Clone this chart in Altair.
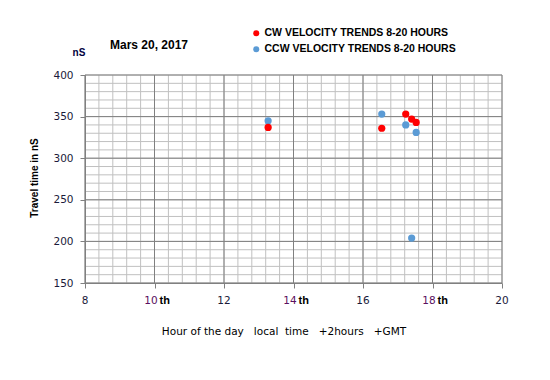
import altair as alt
import pandas as pd

# ---- data ----
cw_hour = [13.27, 16.54, 17.23, 17.40, 17.53]
cw_ns = [337, 336, 353, 347, 343]
ccw_hour = [13.27, 16.54, 17.23, 17.53, 17.40]
ccw_ns = [345, 353, 340, 331, 204]
series = ["CW VELOCITY TRENDS 8-20 HOURS", "CCW VELOCITY TRENDS 8-20 HOURS"]
colors = ["#ff0000", "#5b9bd5"]

x_ticks = [8, 10, 12, 14, 16, 18, 20]
x_tick_labels = ["8", "10", "12", "14", "16", "18", "20"]
th_ticks = [10, 14, 18]
y_ticks = [150, 200, 250, 300, 350, 400]
x_minor = [round(8 + 0.4 * i, 2) for i in range(31)]
y_minor = list(range(150, 401, 10))

W, H = 417, 208
OX, OY = 85, 75  # plot origin in page pixels

xs = alt.Scale(domain=[8, 20], nice=False, zero=False)
ys = alt.Scale(domain=[150, 400], nice=False, zero=False)

x_axis = alt.Axis(values=x_ticks, labels=False, tickSize=5, tickColor="#808080",
                  domainColor="#808080", grid=False, title=None, zindex=1)
y_axis = alt.Axis(values=y_ticks, tickSize=5, tickColor="#808080", domainColor="#808080",
                  grid=False, title=None, labelFont="DejaVu Sans", labelFontSize=10.5,
                  labelColor="#1a1a3a", labelPadding=7, zindex=1)

def X(f):
    return alt.X(f, scale=xs, axis=x_axis)

def Y(f):
    return alt.Y(f, scale=ys, axis=y_axis)

pts = pd.DataFrame({
    "hour": cw_hour + ccw_hour,
    "ns": cw_ns + ccw_ns,
    "s": [series[0]] * len(cw_hour) + [series[1]] * len(ccw_hour),
})

grid_minor_x = alt.Chart(pd.DataFrame({"v": x_minor})).mark_rule(color="#c0c0c0", strokeWidth=1).encode(x=X("v:Q"))
grid_minor_y = alt.Chart(pd.DataFrame({"v": y_minor})).mark_rule(color="#c0c0c0", strokeWidth=1).encode(y=Y("v:Q"))
grid_major_x = alt.Chart(pd.DataFrame({"v": x_ticks})).mark_rule(color="#808080", strokeWidth=1).encode(x=X("v:Q"))
grid_major_y = alt.Chart(pd.DataFrame({"v": y_ticks})).mark_rule(color="#808080", strokeWidth=1).encode(y=Y("v:Q"))

color_enc = alt.Color(
    "s:N",
    scale=alt.Scale(domain=series, range=colors),
    legend=alt.Legend(
        orient="none", legendX=166, legendY=-47, title=None,
        symbolType="circle", symbolSize=36, symbolStrokeWidth=0, symbolOpacity=1,
        labelFont="Liberation Sans", labelFontWeight="bold", labelFontSize=10.5,
        labelColor="#000000", labelOffset=3, rowPadding=5, padding=0, labelLimit=0,
    ),
)

blue = alt.Chart(pts).transform_filter(alt.datum.s == series[1]).mark_circle(size=52, opacity=1).encode(
    x=X("hour:Q"), y=Y("ns:Q"), color=color_enc)
red = alt.Chart(pts).transform_filter(alt.datum.s == series[0]).mark_circle(size=52, opacity=1).encode(
    x=X("hour:Q"), y=Y("ns:Q"), color=color_enc)

lab_df = pd.DataFrame({"h": x_ticks, "lab": x_tick_labels})
lab_plain = alt.Chart(lab_df).transform_filter("datum.h % 4 == 0").mark_text(
    font="DejaVu Sans", fontSize=10.5, color="#1a1a3a", baseline="middle", align="center"
).encode(x=X("h:Q"), y=alt.value(H + 17.5), text="lab:N")
lab_num_th = alt.Chart(lab_df).transform_filter("datum.h % 4 != 0").mark_text(
    font="DejaVu Sans", fontSize=10.5, color="#5a1060", baseline="middle", align="center", dx=-3.5
).encode(x=X("h:Q"), y=alt.value(H + 18), text="lab:N")
lab_th = alt.Chart(pd.DataFrame({"h": th_ticks})).mark_text(
    font="Liberation Sans", fontSize=11, fontWeight="bold", color="#000000",
    baseline="middle", align="left", dx=5, text="th"
).encode(x=X("h:Q"), y=alt.value(H + 18))

def txt(s, px, py, **kw):
    return alt.Chart(pd.DataFrame({"t": [s]})).mark_text(baseline="middle", **kw).encode(
        x=alt.value(px - OX), y=alt.value(py - OY), text="t:N")

NB = "\u00a0"
title = txt("Mars 20, 2017", 149, 45, font="Liberation Sans", fontSize=12, fontWeight="bold",
            color="#000000", align="center")
ns_unit = txt("nS", 79, 53, font="Liberation Sans", fontSize=10, fontWeight="bold",
              color="#000040", align="center")
ytitle = txt("Travel time in nS", 35, 178, font="Liberation Sans", fontSize=10, fontWeight="bold",
             color="#000000", align="center", angle=270)
xtitle = txt("Hour of the day" + NB * 3 + "local" + NB * 2 + "time" + NB * 3 + "+2hours" + NB * 3 + "+GMT",
             284, 332, font="DejaVu Sans", fontSize=10.5, color="#000000", align="center")

chart = alt.layer(
    grid_minor_x, grid_minor_y, grid_major_x, grid_major_y,
    blue, red, lab_plain, lab_num_th, lab_th, title, ns_unit, ytitle, xtitle,
).properties(
    width=W, height=H,
    autosize=alt.AutoSizeParams(type="none"),
    padding={"left": OX - 8, "top": OY - 8, "right": 30, "bottom": 80},
    background="white",
).configure_view(stroke=None)

chart.save("out.html", embed_options={"renderer": "svg", "actions": False})
